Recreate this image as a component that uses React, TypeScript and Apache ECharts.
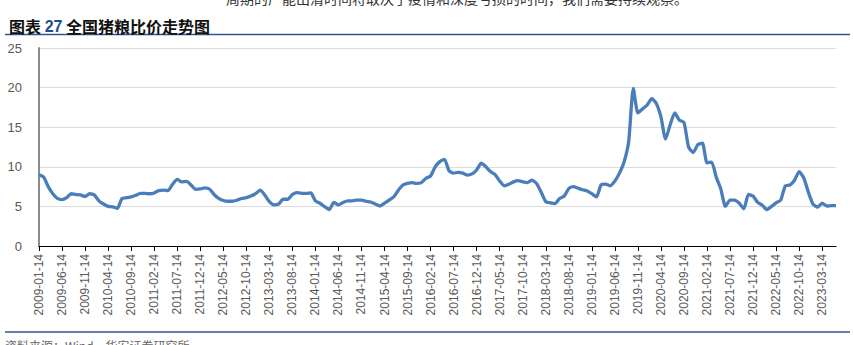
import React, { useEffect, useRef } from "react";
import * as echarts from "echarts";

const startYear = 2009;
const monthCount = 174;
const categories: string[] = Array.from({ length: monthCount }, (_, i) => {
  const y = startYear + Math.floor(i / 12);
  const m = (i % 12) + 1;
  return `${y}-${String(m).padStart(2, "0")}-14`;
});

const pigGrainRatio: number[] = [
  9.0, 8.7, 7.5, 6.6, 6.0, 5.85, 6.1, 6.6, 6.5, 6.45, 6.25, 6.6,
  6.45, 5.7, 5.3, 5.0, 4.95, 4.75, 6.0, 6.1, 6.2, 6.4, 6.65, 6.65,
  6.6, 6.7, 7.0, 7.05, 7.0, 7.8, 8.4, 8.1, 8.15, 7.7, 7.15, 7.2,
  7.35, 7.2, 6.5, 6.0, 5.75, 5.65, 5.65, 5.8, 6.0, 6.1, 6.3, 6.6,
  7.05, 6.45, 5.6, 5.2, 5.3, 5.9, 5.9, 6.5, 6.75, 6.65, 6.65, 6.7,
  5.7, 5.4, 4.97, 4.6, 5.5, 5.2, 5.5, 5.7, 5.7, 5.8, 5.8, 5.65,
  5.55, 5.3, 5.05, 5.4, 5.8, 6.2, 7.05, 7.7, 7.9, 8.0, 7.9, 8.0,
  8.55, 8.85, 10.0, 10.65, 10.95, 9.5, 9.2, 9.3, 9.2, 8.95, 9.1, 9.6,
  10.45, 10.0, 9.4, 9.0, 8.2, 7.6, 7.8, 8.1, 8.25, 8.1, 8.0, 8.3,
  7.9, 6.8, 5.6, 5.45, 5.35, 6.0, 6.3, 7.25, 7.5, 7.3, 7.1, 6.95,
  6.6, 6.2, 7.7, 7.8, 7.6, 8.2, 9.2, 10.6, 13.2, 19.9, 16.8, 17.3,
  17.8, 18.6, 18.0, 16.3, 13.5, 15.3, 16.8, 15.9, 15.6, 12.5, 11.8, 12.8,
  13.0, 10.5, 10.6, 8.7, 7.2, 5.0, 5.8, 5.8, 5.4, 4.7, 6.5, 6.3,
  5.5, 5.15, 4.6, 5.0, 5.45, 5.8, 7.6, 7.7, 8.3, 9.4, 8.6, 6.8,
  5.3, 4.9, 5.4, 5.05, 5.1, 5.1,
];

const yMin = 0;
const yMax = 25;
const yStep = 5;

const titlePrefix = "图表 ";
const titleNumber = "27";
const titleText = " 全国猪粮比价走势图";
const topCutText = "周期的产能出清时间将取决于疫情和深度亏损的时间，我们需要持续观察。";
const bottomCutText = "资料来源：Wind，华安证券研究所";

export default function App() {
  const ref = useRef<HTMLDivElement>(null);
  useEffect(() => {
    if (!ref.current) return;
    const chart = echarts.init(ref.current, null, { renderer: "svg" });
    chart.setOption({
      animation: false,
      backgroundColor: "#ffffff",
      title: {
        text: `{a|${titlePrefix}}{b|${titleNumber}}{a|${titleText}}`,
        left: 4,
        top: 13,
        textStyle: {
          rich: {
            a: { fontSize: 16, fontWeight: "bold", color: "#111", fontFamily: "Noto Sans CJK SC" },
            b: { fontSize: 16, fontWeight: "bold", color: "#1f4e8c", fontFamily: "Liberation Sans" },
          },
        },
      },
      graphic: [
        { type: "line", shape: { x1: 5, y1: 34.5, x2: 850, y2: 34.5 }, style: { stroke: "#2f5597", lineWidth: 1.5 } },
        { type: "line", shape: { x1: 5, y1: 332, x2: 850, y2: 332 }, style: { stroke: "#2f5597", lineWidth: 1.5 } },
        { type: "text", x: 226, y: -9, style: { text: topCutText, fontSize: 14, fill: "#333", fontFamily: "Noto Sans CJK SC" } },
        { type: "text", x: 5, y: 339, style: { text: bottomCutText, fontSize: 12, fill: "#666", fontFamily: "Noto Sans CJK SC" } },
      ],
      grid: { left: 39, right: 17, top: 48, bottom: 99, containLabel: false },
      xAxis: {
        type: "category",
        data: categories,
        boundaryGap: false,
        axisLine: { lineStyle: { color: "#000", width: 1.2 } },
        axisTick: { show: true, interval: 4, length: 5, lineStyle: { color: "#000" } },
        axisLabel: {
          interval: 4,
          rotate: 90,
          color: "#595959",
          fontSize: 12,
          fontFamily: "Liberation Sans",
          margin: 8,
        },
        splitLine: { show: false },
      },
      yAxis: {
        type: "value",
        min: yMin,
        max: yMax,
        interval: yStep,
        axisLine: { show: true, lineStyle: { color: "#8c8c8c", width: 2 } },
        axisTick: { show: false },
        axisLabel: { color: "#595959", fontSize: 13, fontFamily: "Liberation Sans", margin: 17 },
        splitLine: { lineStyle: { color: "#dcdcdc", width: 1.2 } },
      },
      series: [
        {
          type: "line",
          data: pigGrainRatio,
          showSymbol: false,
          smooth: 0.2,
          lineStyle: { color: "#4a7ebb", width: 3.3 },
          itemStyle: { color: "#4a7ebb" },
        },
      ],
    });
    return () => chart.dispose();
  }, []);
  return (
    <div
      ref={ref}
      style={{ position: "fixed", left: 0, top: 0, width: 853, height: 345 }}
    />
  );
}
